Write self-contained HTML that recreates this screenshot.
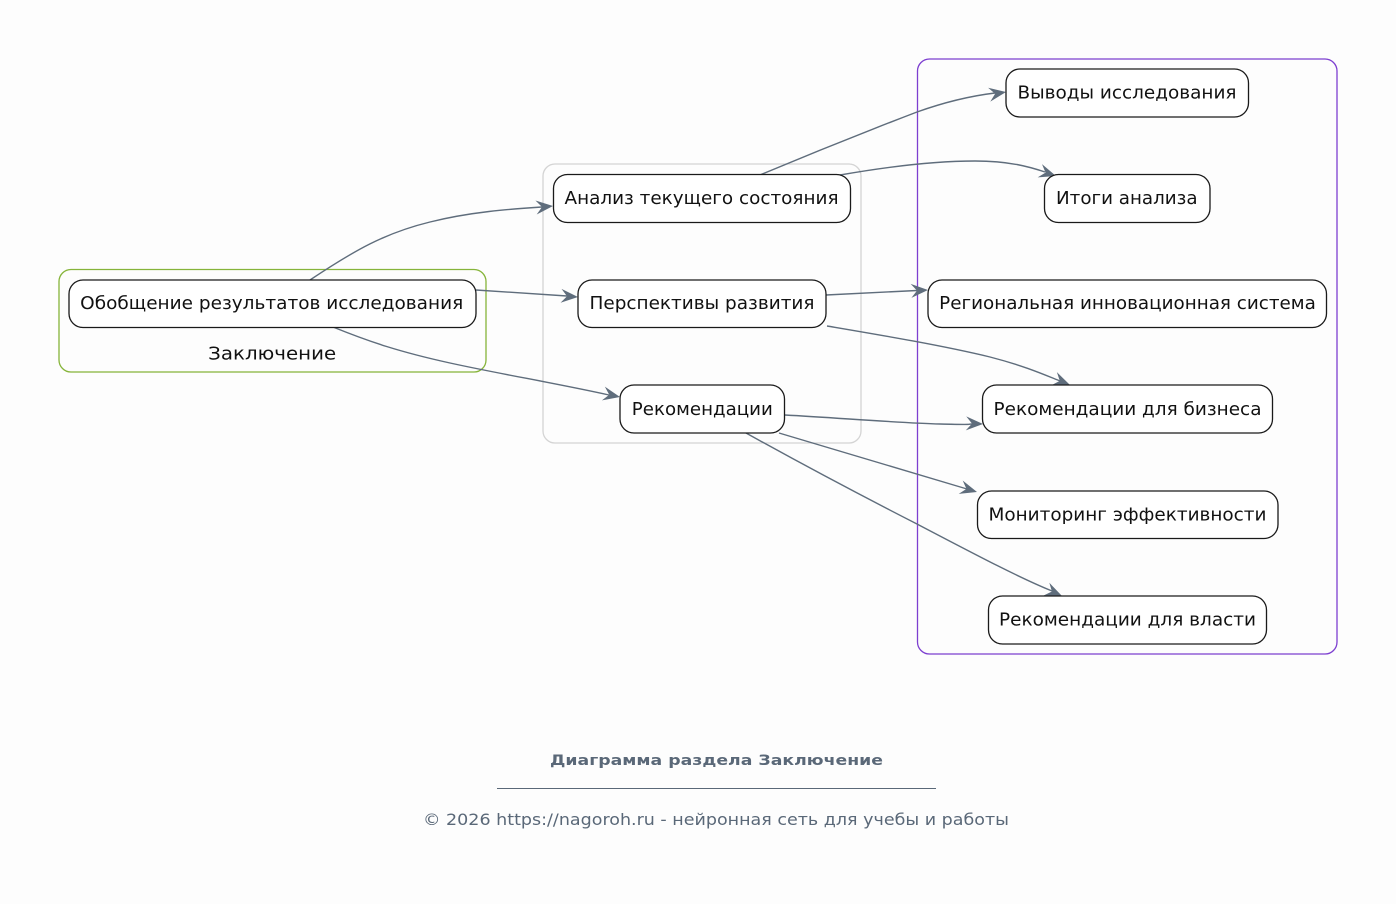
<!DOCTYPE html>
<html>
<head>
<meta charset="utf-8">
<style>
html,body{margin:0;padding:0;background:#fdfdfd;}
svg{display:block;}
text{font-family:"DejaVu Sans","Liberation Sans",sans-serif;}
</style>
</head>
<body>
<svg width="1396" height="904" viewBox="0 0 1396 904" xmlns="http://www.w3.org/2000/svg">
<rect x="0" y="0" width="1396" height="904" fill="#fdfdfd"/>

<!-- clusters -->
<rect x="59" y="269.5" width="427" height="102.5" rx="12" fill="none" stroke="#86b43a" stroke-width="1.3"/>
<text x="272.2" y="359.5" font-size="18" text-anchor="middle" textLength="128" lengthAdjust="spacingAndGlyphs" fill="#111">Заключение</text>
<rect x="543" y="164" width="318" height="279" rx="12" fill="none" stroke="#d4d4d4" stroke-width="1.3"/>
<rect x="917.5" y="59" width="419.5" height="595" rx="12" fill="none" stroke="#7d3fd0" stroke-width="1.3"/>

<!-- edges -->
<g fill="none" stroke="#5f6d7c" stroke-width="1.4">
<path d="M310,280 C355,250 385,233 430,222 C470,212 510,209 542,207"/>
<path d="M476,290 L567,296"/>
<path d="M333,327 C370,342 400,352 450,363 C500,374 560,384 609,395"/>
<path d="M760,175 C810,154 870,130 917,112 C945,102 970,96 995,93"/>
<path d="M840,175 C880,168 930,161 975,161 C1010,161 1030,167 1045,172"/>
<path d="M826,295 L917,290.5"/>
<path d="M827,326 C880,335 940,345 990,357 C1025,366 1045,375 1060,381"/>
<path d="M785,415 C840,418 900,423 940,424 S965,424 972,424"/>
<path d="M779,433 L967,489"/>
<path d="M746,433 C800,463 870,500 917,524 C980,557 1020,578 1052,591"/>
</g>
<g fill="#5f6d7c">
<polygon points="0,0 -17,-7 -11,0 -17,7" transform="translate(553,206) rotate(-5)"/>
<polygon points="0,0 -17,-7 -11,0 -17,7" transform="translate(578,297) rotate(4)"/>
<polygon points="0,0 -17,-7 -11,0 -17,7" transform="translate(620,397) rotate(12)"/>
<polygon points="0,0 -17,-7 -11,0 -17,7" transform="translate(1006,92) rotate(-9)"/>
<polygon points="0,0 -17,-7 -11,0 -17,7" transform="translate(1056,176) rotate(18)"/>
<polygon points="0,0 -17,-7 -11,0 -17,7" transform="translate(928,290) rotate(-3)"/>
<polygon points="0,0 -17,-7 -11,0 -17,7" transform="translate(1070,385) rotate(22)"/>
<polygon points="0,0 -17,-7 -11,0 -17,7" transform="translate(983,424) rotate(2)"/>
<polygon points="0,0 -17,-7 -11,0 -17,7" transform="translate(977,492) rotate(16.5)"/>
<polygon points="0,0 -17,-7 -11,0 -17,7" transform="translate(1062,596) rotate(24)"/>
</g>

<!-- nodes -->
<g fill="#ffffff" stroke="#1a1a1a" stroke-width="1.3">
<rect x="69" y="280" width="407" height="47.5" rx="14"/>
<rect x="553.5" y="174.5" width="297" height="48" rx="14"/>
<rect x="578" y="280" width="248" height="47.5" rx="14"/>
<rect x="620" y="385" width="164.5" height="48" rx="14"/>
<rect x="1006" y="69" width="242.5" height="48" rx="14"/>
<rect x="1044.5" y="174.5" width="165.5" height="48" rx="14"/>
<rect x="928" y="280" width="398.5" height="47.5" rx="14"/>
<rect x="982.5" y="385" width="290" height="48" rx="14"/>
<rect x="977.5" y="491" width="300.5" height="47.5" rx="14"/>
<rect x="988.5" y="596" width="278" height="48" rx="14"/>
</g>

<g font-size="18" text-anchor="middle" fill="#111" lengthAdjust="spacingAndGlyphs">
<text x="271.7" y="309" textLength="383" lengthAdjust="spacingAndGlyphs">Обобщение результатов исследования</text>
<text x="701.5" y="204" textLength="274" lengthAdjust="spacingAndGlyphs">Анализ текущего состояния</text>
<text x="702" y="309" textLength="225" lengthAdjust="spacingAndGlyphs">Перспективы развития</text>
<text x="702.3" y="415" textLength="141" lengthAdjust="spacingAndGlyphs">Рекомендации</text>
<text x="1127" y="98.5" textLength="219" lengthAdjust="spacingAndGlyphs">Выводы исследования</text>
<text x="1126.8" y="204" textLength="141.6" lengthAdjust="spacingAndGlyphs">Итоги анализа</text>
<text x="1127.5" y="309" textLength="376.7" lengthAdjust="spacingAndGlyphs">Региональная инновационная система</text>
<text x="1127.5" y="415" textLength="268" lengthAdjust="spacingAndGlyphs">Рекомендации для бизнеса</text>
<text x="1127.5" y="520.5" textLength="278" lengthAdjust="spacingAndGlyphs">Мониторинг эффективности</text>
<text x="1127.5" y="625.5" textLength="257" lengthAdjust="spacingAndGlyphs">Рекомендации для власти</text>
</g>

<!-- footer -->
<text x="716.5" y="765" font-size="14.5" font-weight="bold" text-anchor="middle" fill="#5a6878" textLength="333" lengthAdjust="spacingAndGlyphs">Диаграмма раздела Заключение</text>
<line x1="497" y1="788.5" x2="936" y2="788.5" stroke="#5a6878" stroke-width="1"/>
<text x="716" y="825" font-size="16" text-anchor="middle" fill="#5a6878" textLength="586" lengthAdjust="spacingAndGlyphs">© 2026 https://nagoroh.ru - нейронная сеть для учебы и работы</text>
</svg>
</body>
</html>
